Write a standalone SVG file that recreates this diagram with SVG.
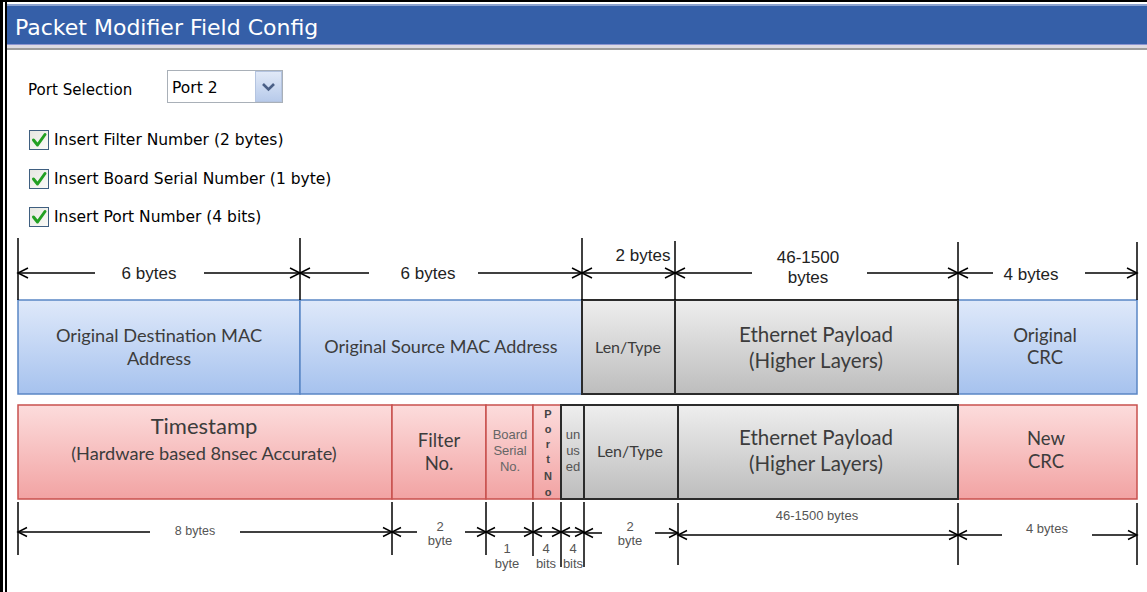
<svg xmlns="http://www.w3.org/2000/svg" width="1147" height="592" viewBox="0 0 1147 592">
<defs>
<linearGradient id="gBlue" x1="0" y1="0" x2="0" y2="1"><stop offset="0" stop-color="#dfe9fa"/><stop offset="1" stop-color="#a6c2ee"/></linearGradient>
<linearGradient id="gGray" x1="0" y1="0" x2="0" y2="1"><stop offset="0" stop-color="#eeeeee"/><stop offset="1" stop-color="#bdbdbd"/></linearGradient>
<linearGradient id="gRed" x1="0" y1="0" x2="0" y2="1"><stop offset="0" stop-color="#fcdcdc"/><stop offset="1" stop-color="#f2a3a3"/></linearGradient>
<linearGradient id="gBtn" x1="0" y1="0" x2="0" y2="1"><stop offset="0" stop-color="#e2eaf8"/><stop offset="1" stop-color="#b7caea"/></linearGradient>
<linearGradient id="gChk" x1="0" y1="0" x2="1" y2="1"><stop offset="0" stop-color="#e6e6e0"/><stop offset="1" stop-color="#fbfbf8"/></linearGradient>
<marker id="ah" viewBox="0 0 10 10" refX="10" refY="5" markerWidth="10" markerHeight="10" markerUnits="userSpaceOnUse" orient="auto-start-reverse" overflow="visible"><path d="M0,0 L10,5 L0,10" fill="none" stroke="#000" stroke-width="1.5"/></marker>
<marker id="ahs" viewBox="0 0 10 10" refX="10" refY="5" markerWidth="9" markerHeight="9" markerUnits="userSpaceOnUse" orient="auto-start-reverse" overflow="visible"><path d="M0,0 L10,5 L0,10" fill="none" stroke="#000" stroke-width="1.6"/></marker>
<style>
.ui{font-family:"DejaVu Sans","Liberation Sans",sans-serif;fill:#000}
.lbl{font-family:Lato,"Liberation Sans",sans-serif;fill:#3c3c3c;text-anchor:middle}
.dim{font-family:"Liberation Sans",Arial,sans-serif;fill:#222;text-anchor:middle;font-size:17px}
.sm{font-family:"Liberation Sans",Arial,sans-serif;fill:#555;text-anchor:middle;font-size:13px}
.tiny{font-family:"Liberation Sans",Arial,sans-serif;fill:#666;text-anchor:middle;font-size:13px}
.pn{font-family:"Liberation Sans",Arial,sans-serif;fill:#444;text-anchor:middle;font-size:11px;font-weight:bold}
.blue{fill:url(#gBlue);stroke:#5a86c5;stroke-width:1.5}
.gray{fill:url(#gGray);stroke:#2b2b2b;stroke-width:2}
.red{fill:url(#gRed);stroke:#c8504d;stroke-width:1.5}
.tk{stroke:#000;stroke-width:1.5}
.dl{stroke:#000;stroke-width:1.5;fill:none}
.a1{marker-start:url(#ah)}
.a2{marker-end:url(#ah)}
.a3{marker-start:url(#ah);marker-end:url(#ah)}
.b1{marker-start:url(#ahs)}
.b2{marker-end:url(#ahs)}
.b3{marker-start:url(#ahs);marker-end:url(#ahs)}
.chk{fill:url(#gChk);stroke:#3f5f80;stroke-width:1}
.tick{fill:none;stroke:#22a022;stroke-width:3;stroke-linecap:round;stroke-linejoin:round}
</style>
</defs>

<g id="window">
<rect x="0" y="0" width="1147" height="592" fill="#ffffff"/>
<rect x="0" y="0" width="1147" height="2" fill="#000"/>
<rect x="0" y="0" width="3" height="592" fill="#000"/>
<rect x="5" y="0" width="2" height="592" fill="#000"/>
<rect x="7" y="4" width="1140" height="2" fill="#8da3cf"/>
<rect x="7" y="6" width="1140" height="38" fill="#355fa8"/>
<rect x="7" y="44" width="1140" height="1" fill="#8a94d0"/>
<rect x="7" y="45" width="1140" height="3" fill="#dcdae2"/>
<rect x="7" y="48" width="1140" height="2" fill="#9c9c9c"/>
<text x="15" y="35" class="ui" style="fill:#fff;font-size:22px">Packet Modifier Field Config</text>
</g>

<g id="port-selection">
<text x="28" y="95" class="ui" style="font-size:15.1px">Port Selection</text>
<rect x="167.5" y="70.5" width="115" height="32" fill="#fff" stroke="#a9b0b8"/>
<text x="172" y="93" class="ui" style="font-size:15.5px">Port 2</text>
<rect x="255.5" y="71.5" width="26" height="30" fill="url(#gBtn)" stroke="#b4c4e0"/>
<path d="M263,84 L268.5,89.5 L274,84" fill="none" stroke="#4a5f86" stroke-width="2.6"/>
</g>

<g id="opt-filter">
<rect x="29.5" y="130.5" width="19" height="19" class="chk"/>
<path d="M33.5,140 L37.5,145 L45,134.5" class="tick"/>
<text x="54" y="145" class="ui" style="font-size:15.5px">Insert Filter Number (2 bytes)</text>
</g>
<g id="opt-board">
<rect x="29.5" y="169.5" width="19" height="19" class="chk"/>
<path d="M33.5,179 L37.5,184 L45,173.5" class="tick"/>
<text x="54" y="184" class="ui" style="font-size:15.5px">Insert Board Serial Number (1 byte)</text>
</g>
<g id="opt-port">
<rect x="29.5" y="207.5" width="19" height="19" class="chk"/>
<path d="M33.5,217 L37.5,222 L45,211.5" class="tick"/>
<text x="54" y="222" class="ui" style="font-size:15.5px">Insert Port Number (4 bits)</text>
</g>

<g id="orig-dst-mac">
<rect x="18" y="300" width="282" height="94" class="blue"/>
<text x="159" y="342" class="lbl" style="font-size:18.2px">Original Destination MAC</text>
<text x="159" y="365" class="lbl" style="font-size:18.2px">Address</text>
</g>
<g id="orig-src-mac">
<rect x="300" y="300" width="282" height="94" class="blue"/>
<text x="441" y="353" class="lbl" style="font-size:18px">Original Source MAC Address</text>
</g>
<g id="orig-crc">
<rect x="958" y="300" width="179" height="94" class="blue"/>
<text x="1045" y="342" class="lbl" style="font-size:18.5px">Original</text>
<text x="1045" y="364" class="lbl" style="font-size:18.5px">CRC</text>
</g>
<g id="orig-len-type">
<rect x="582" y="300" width="93" height="94" class="gray"/>
<text x="628" y="353" class="lbl" style="font-size:16px">Len/Type</text>
</g>
<g id="orig-payload">
<rect x="675" y="300" width="283" height="94" class="gray"/>
<text x="816" y="342" class="lbl" style="font-size:20.5px">Ethernet Payload</text>
<text x="816" y="368" class="lbl" style="font-size:20.5px">(Higher Layers)</text>
</g>

<g id="timestamp">
<rect x="18" y="405" width="374" height="94" class="red"/>
<text x="204" y="434" class="lbl" style="font-size:22px">Timestamp</text>
<text x="204" y="460" class="lbl" style="font-size:18.2px">(Hardware based 8nsec Accurate)</text>
</g>
<g id="filter-no">
<rect x="392" y="405" width="94" height="94" class="red"/>
<text x="439" y="447" class="lbl" style="font-size:18.5px">Filter</text>
<text x="439" y="470" class="lbl" style="font-size:18.5px">No.</text>
</g>
<g id="board-serial">
<rect x="486" y="405" width="47" height="94" class="red"/>
<text x="510" y="439" class="tiny">Board</text>
<text x="510" y="455" class="tiny">Serial</text>
<text x="510" y="471" class="tiny">No.</text>
</g>
<g id="port-no">
<rect x="533" y="405" width="28" height="94" class="red"/>
<text x="548" y="418" class="pn">P</text>
<text x="548" y="433" class="pn">o</text>
<text x="548" y="448" class="pn">r</text>
<text x="548" y="463" class="pn">t</text>
<text x="548" y="480" class="pn">N</text>
<text x="548" y="496" class="pn">o</text>
</g>
<g id="new-crc">
<rect x="958" y="405" width="179" height="94" class="red"/>
<text x="1046" y="445" class="lbl" style="font-size:18.5px">New</text>
<text x="1046" y="468" class="lbl" style="font-size:18.5px">CRC</text>
</g>
<g id="unused">
<rect x="561" y="405" width="23" height="94" class="gray"/>
<text x="573" y="439" class="tiny" style="fill:#555">un</text>
<text x="573" y="455" class="tiny" style="fill:#555">us</text>
<text x="573" y="471" class="tiny" style="fill:#555">ed</text>
</g>
<g id="new-len-type">
<rect x="584" y="405" width="94" height="94" class="gray"/>
<text x="630" y="457" class="lbl" style="font-size:16px">Len/Type</text>
</g>
<g id="new-payload">
<rect x="678" y="405" width="280" height="94" class="gray"/>
<text x="816" y="445" class="lbl" style="font-size:20.5px">Ethernet Payload</text>
<text x="816" y="471" class="lbl" style="font-size:20.5px">(Higher Layers)</text>
</g>

<g id="connectors">
<line x1="18" y1="238" x2="18" y2="300" class="tk"/>
<line x1="300" y1="238" x2="300" y2="300" class="tk"/>
<line x1="582" y1="238" x2="582" y2="300" class="tk"/>
<line x1="675" y1="241" x2="675" y2="300" class="tk"/>
<line x1="958" y1="242" x2="958" y2="300" class="tk"/>
<line x1="1137" y1="242" x2="1137" y2="300" class="tk"/>
<line x1="18" y1="273" x2="95" y2="273" class="dl a1"/>
<line x1="204" y1="273" x2="300" y2="273" class="dl a2"/>
<line x1="300" y1="273" x2="369" y2="273" class="dl a1"/>
<line x1="478" y1="273" x2="582" y2="273" class="dl a2"/>
<line x1="582" y1="273" x2="675" y2="273" class="dl a3"/>
<line x1="675" y1="273" x2="752" y2="273" class="dl a1"/>
<line x1="867" y1="273" x2="958" y2="273" class="dl a2"/>
<line x1="958" y1="273" x2="993" y2="273" class="dl a1"/>
<line x1="1085" y1="273" x2="1137" y2="273" class="dl a2"/>
<text x="149" y="279" class="dim">6 bytes</text>
<text x="428" y="279" class="dim">6 bytes</text>
<text x="643" y="261" class="dim">2 bytes</text>
<text x="808" y="263" class="dim">46-1500</text>
<text x="808" y="283" class="dim">bytes</text>
<text x="1031" y="280" class="dim">4 bytes</text>

<line x1="18" y1="502" x2="18" y2="555" class="tk"/>
<line x1="392" y1="502" x2="392" y2="555" class="tk"/>
<line x1="486" y1="502" x2="486" y2="555" class="tk"/>
<line x1="533" y1="502" x2="533" y2="556" class="tk"/>
<line x1="561" y1="502" x2="561" y2="567" class="tk"/>
<line x1="584" y1="502" x2="584" y2="567" class="tk"/>
<line x1="678" y1="503" x2="678" y2="565" class="tk"/>
<line x1="958" y1="503" x2="958" y2="565" class="tk"/>
<line x1="1137" y1="503" x2="1137" y2="565" class="tk"/>
<line x1="18" y1="532" x2="150" y2="532" class="dl b1"/>
<line x1="240" y1="532" x2="392" y2="532" class="dl b2"/>
<line x1="392" y1="532" x2="417" y2="532" class="dl b1"/>
<line x1="465" y1="532" x2="486" y2="532" class="dl b2"/>
<line x1="486" y1="532" x2="533" y2="532" class="dl b3"/>
<line x1="533" y1="532" x2="561" y2="532" class="dl b3"/>
<line x1="561" y1="532" x2="584" y2="532" class="dl b3"/>
<line x1="584" y1="533" x2="602" y2="533" class="dl b1"/>
<line x1="655" y1="533" x2="678" y2="533" class="dl b2"/>
<line x1="678" y1="535" x2="958" y2="535" class="dl b3"/>
<line x1="958" y1="535" x2="1002" y2="535" class="dl b1"/>
<line x1="1092" y1="535" x2="1137" y2="535" class="dl b2"/>
<text x="195" y="535" class="sm" style="font-size:12.5px">8 bytes</text>
<text x="440" y="531" class="sm">2</text>
<text x="440" y="545" class="sm">byte</text>
<text x="507" y="553" class="sm">1</text>
<text x="507" y="568" class="sm">byte</text>
<text x="546" y="553" class="sm">4</text>
<text x="546" y="568" class="sm">bits</text>
<text x="573" y="553" class="sm">4</text>
<text x="573" y="568" class="sm">bits</text>
<text x="630" y="531" class="sm">2</text>
<text x="630" y="545" class="sm">byte</text>
<text x="817" y="520" class="sm">46-1500 bytes</text>
<text x="1047" y="533" class="sm">4 bytes</text>
</g>
</svg>
